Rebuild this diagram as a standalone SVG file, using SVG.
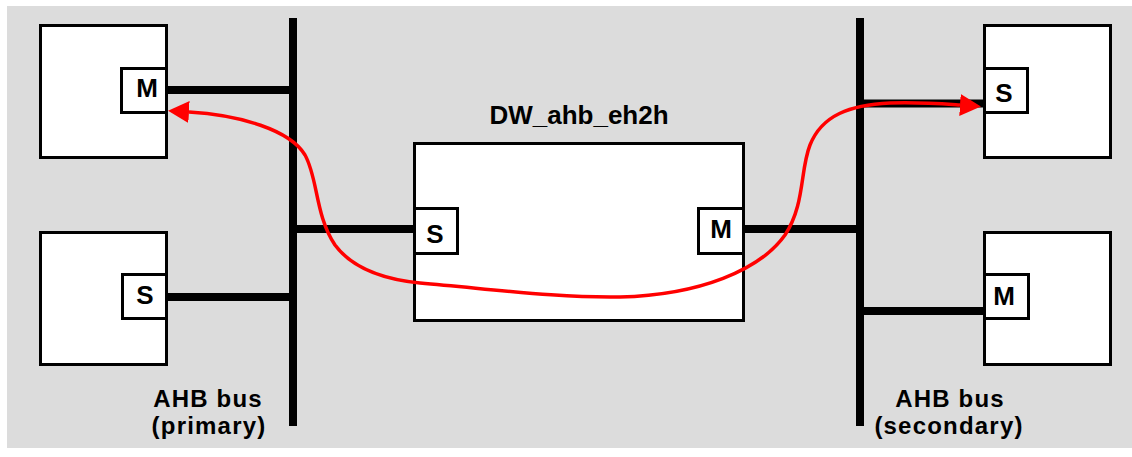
<svg xmlns="http://www.w3.org/2000/svg" width="1132" height="457" viewBox="0 0 1132 457">
  <style>
    .blk { fill: #ffffff; stroke: #000000; stroke-width: 3; }
    .port { fill: #ffffff; stroke: #000000; stroke-width: 3; }
    .bus { stroke: #000000; stroke-width: 8; fill: none; }
    .link { stroke: #000000; stroke-width: 8; fill: none; }
    .lbl { font-family: "Liberation Sans", Arial, sans-serif; font-weight: bold; font-size: 26px; fill: #000000; text-anchor: middle; }
    .cap { font-family: "Liberation Sans", Arial, sans-serif; font-weight: bold; font-size: 26px; fill: #000000; text-anchor: middle; }
    .buscap { font-family: "Liberation Sans", Arial, sans-serif; font-weight: bold; font-size: 24px; letter-spacing: 1.2px; fill: #000000; text-anchor: middle; }
    .flow { stroke: #ff0000; stroke-width: 3.5; fill: none; }
  </style>
  <defs>
    <marker id="redhead" markerUnits="userSpaceOnUse" markerWidth="22" markerHeight="22" refX="0" refY="11" orient="auto-start-reverse" viewBox="0 0 22 22">
      <path d="M0,0 L21,11 L0,22 z" fill="#ff0000"/>
    </marker>
  </defs>

  <!-- backdrop -->
  <rect x="7" y="6" width="1125" height="442" fill="#dcdcdc"/>

  <!-- buses and bus taps -->
  <g id="connectors">
    <line class="bus" x1="293" y1="18" x2="293" y2="426"/>
    <line class="bus" x1="860" y1="18" x2="860" y2="426"/>
    <line class="link" x1="168" y1="90" x2="293" y2="90"/>
    <line class="link" x1="168" y1="297" x2="293" y2="297"/>
    <line class="link" x1="293" y1="229" x2="416" y2="229"/>
    <line class="link" x1="744" y1="229" x2="860" y2="229"/>
    <line class="link" x1="860" y1="103.5" x2="983" y2="103.5" stroke-width="7"/>
    <line class="link" x1="860" y1="311" x2="983" y2="311"/>
  </g>

  <!-- primary-side master -->
  <g id="primary-master">
    <rect class="blk" x="40.5" y="25.5" width="126" height="132"/>
    <rect class="port" x="121.5" y="68.5" width="45" height="44"/>
    <text class="lbl" x="147" y="97">M</text>
  </g>

  <!-- primary-side slave -->
  <g id="primary-slave">
    <rect class="blk" x="40.5" y="232.5" width="126" height="132"/>
    <rect class="port" x="122.5" y="274.5" width="44" height="44"/>
    <text class="lbl" x="145" y="304">S</text>
  </g>

  <!-- bridge -->
  <g id="bridge">
    <text class="cap" x="579" y="124">DW_ahb_eh2h</text>
    <rect class="blk" x="414.5" y="143.5" width="329" height="177"/>
    <rect class="port" x="414.5" y="208.5" width="43" height="45"/>
    <text class="lbl" x="435" y="243">S</text>
    <rect class="port" x="698.5" y="208.5" width="45" height="45"/>
    <text class="lbl" x="721" y="238">M</text>
  </g>

  <!-- secondary-side slave -->
  <g id="secondary-slave">
    <rect class="blk" x="984.5" y="25.5" width="126" height="132"/>
    <rect class="port" x="984.5" y="68.5" width="43" height="44"/>
    <text class="lbl" x="1004" y="102">S</text>
  </g>

  <!-- secondary-side master -->
  <g id="secondary-master">
    <rect class="blk" x="984.5" y="232.5" width="126" height="132"/>
    <rect class="port" x="984.5" y="274.5" width="44" height="44"/>
    <text class="lbl" x="1004" y="305">M</text>
  </g>

  <!-- bus captions -->
  <g id="primary-bus-label">
    <text class="buscap" x="208" y="407">AHB bus</text>
    <text class="buscap" x="209" y="434">(primary)</text>
  </g>
  <g id="secondary-bus-label">
    <text class="buscap" x="950" y="407">AHB bus</text>
    <text class="buscap" x="949" y="434">(secondary)</text>
  </g>

  <!-- transfer path through the bridge -->
  <g id="flow">
    <path class="flow" marker-start="url(#redhead)" marker-end="url(#redhead)"
      d="M 189 112 C 240 115, 290 130, 305 155 C 318 178, 315 215, 335 245 C 355 272, 390 280, 420 283 C 500 290, 560 298, 620 297 C 700 295, 760 270, 785 235 C 805 205, 800 170, 810 145 C 822 115, 850 105, 890 103 C 920 102, 945 104, 960 105"/>
  </g>
</svg>
